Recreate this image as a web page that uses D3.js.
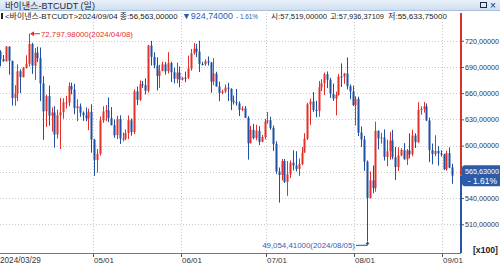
<!DOCTYPE html>
<html>
<head>
<meta charset="utf-8">
<script src="https://cdn.jsdelivr.net/npm/d3@7"></script>
<style>
body { margin: 0; background: #fff; }
svg { display: block; }
text { font-family: "Liberation Sans", "Noto Sans CJK KR", sans-serif; }
</style>
</head>
<body>
<script>
// daily candles 2024/03/29 .. 2024/09/04
var dates = d3.timeDay.range(new Date(2024, 2, 29), new Date(2024, 8, 5));

var open = [70744,69892,69645,71333,69702,65446,65980,68508,67837,68896,
    69361,71620,69146,70631,70006,67116,63924,65661,63419,63793,
    61277,63470,63818,64940,64941,66819,66414,64289,64498,63770,
    63462,63118,63866,60672,58364,59060,62882,63892,64038,63162,
    62334,61187,63049,60792,60793,61448,62901,61552,66207,65235,
    67025,66915,66274,71446,70148,69166,67969,68549,69290,68507,
    69436,68398,67652,68352,67540,67766,67765,68809,70567,71082,
    70757,69342,69305,69648,69508,67322,68242,66757,66006,66191,
    66639,66490,65140,64960,64828,64096,64252,63180,60277,61806,
    60865,61707,60427,60986,62772,62900,62029,60173,57031,56639,
    58231,55857,56714,58051,57725,57339,57889,59204,60797,64724,
    65043,64087,63987,66661,67139,68165,67532,65936,65376,65799,
    67907,67896,68249,66784,66188,64628,65354,61498,60697,58161,
    54018,56022,55134,61685,60837,60923,58712,59346,60587,58683,
    57541,58874,59491,58427,59438,59013,61157,60381,64094,64179,
    64485,62880,59504,59027,59388,59119,58974,57301,59132,57519];
var high = [70913,70355,71377,71342,69708,66914,69291,68725,69000,70327,
    72797.98,71758,71172,71305,71227,67931,65840,66867,64365,64499,
    64117,65450,65419,65695,67233,67199,67075,65297,64820,63923,
    64370,64228,64734,60780,59625,63320,64500,64646,65500,64400,
    62995,63421,63469,61490,61850,63450,63118,66444,66752,67451,
    67400,67700,71515,71979,70666,70096,69250,69610,69562,70687,
    69591,68935,69500,69044,67860,68460,70288,71063,71735,71625,
    71997,69582,69875,70196,69565,69999,68450,67316,66402,66998,
    67188,66556,65727,66482,65066,64520,64524,63369,62258,62487,
    62389,62225,61224,63058,63861,63289,62292,60498,57497,58475,
    58475,58236,58296,59470,59359,58526,59850,61420,64900,65388,
    66128,65133,67386,67598,68366,68480,67750,67102,66175,68200,
    69399,68318,70079,66998,66849,65659,65596,62198,61117,58305,
    57040,57736,62745,61744,61470,61858,60680,61578,61800,59849,
    59817,59700,60284,59617,61400,61820,61400,64955,64494,65000,
    64828,63210,60236,61184,59950,59462,59076,59425,59809,57936.37109];
var low = [69076,69601,69624,68110,64586,64560,65113,66011,67800,68806,
    69040,68210,67518,69567,65086,60660,62134,62274,61600,59768,
    60803,59600,63090,64237,64500,65864,63589,62794,63297,62824,
    62781,61765,59191,56552,56911,58848,62600,62822,62700,62325,
    60888,60750,60187,60492,60630,60750,61142,61330,64628,65106,
    66601,65857,66060,69162,68850,66312,66600,68500,68128,68250,
    67277,67124,67128,66670,67444,67257,67612,68567,70390,70119,
    68420,69168,69125,69160,66051,66902,66761,65078,65871,66034,
    65095,64060,64693,64559,63379,63943,63178,58402,60239,60712,
    60606,60063,60383,60712,62497,61808,59400,56771,53485,56018,
    55724,54260,56289,57157,57052,56542,57756,59194,60632,62373,
    63854,63238,63300,66222,65777,66573,65441,65111,63456,65722,
    66705,67066,66428,65302,64530,62302,61100,59850,57122,49054.41,
    53950,54558,54730,59568,60242,58287,57642,58392,58433,56078,
    57098,58786,58408,57787,58548,58783,59724,60342,63531,63773,
    62800,58116,57860,58786,57712,58744,57201,57128,57415,55633.75];
var close = [69892,69645,71333,69702,65446,65980,68508,67837,68896,69361,
    71620,69146,70631,70006,67116,63924,65661,63419,63793,61277,
    63470,63818,64940,64941,66819,66414,64289,64498,63770,63462,
    63118,63866,60672,58364,59060,62882,63892,64038,63162,62334,
    61187,63049,60792,60793,61448,62901,61552,66207,65235,67025,
    66915,66274,71446,70148,69166,67969,68549,69290,68507,69436,
    68398,67652,68352,67540,67766,67765,68809,70567,71082,70757,
    69342,69305,69648,69508,67322,68242,66757,66006,66191,66639,
    66490,65140,64960,64828,64096,64252,63180,60277,61806,60865,
    61707,60427,60986,62772,62900,62029,60173,57031,56639,58231,
    55857,56714,58051,57725,57339,57889,59204,60797,64724,65043,
    64087,63987,66661,67139,68165,67532,65936,65376,65799,67907,
    67896,68249,66784,66188,64628,65354,61498,60697,58161,54018,
    56022,55134,61685,60837,60923,58712,59346,60587,58683,57541,
    58874,59491,58427,59438,59013,61157,60381,64094,64179,64485,
    62880,59504,59027,59388,59119,58974,57301,59132,57487.74,56563];

var yTicks = [51000, 54000, 57000, 60000, 63000, 66000, 69000, 72000];

var width = 500, height = 267;
var plotRight = 461, plotTop = 13, plotBottom = 253;
var upCol = "#e4302b", downCol = "#1f50a3";

var svg = d3.select("body").append("svg")
    .attr("width", width)
    .attr("height", height);

var x = d3.scaleBand()
    .domain(d3.range(dates.length + 3))
    .range([-1, 462]);
var y = d3.scaleLinear()
    .domain([51000, 72000])
    .range([224.3, 40.7]);

var fmtPrice = function(v) { return d3.format(",.5f")(v).replace(/\.(\d+)$/, ",$1"); };
var fmtAxis = function(v) { return d3.format(".5f")(v / 100).replace(".", ","); };
var fmtDate = d3.timeFormat("%Y/%m/%d");

// shrink font so the text is no wider than w
function fit(sel, w) {
    sel.each(function(d, i) {
        var el = d3.select(this);
        var target = typeof w === "function" ? w(d, i) : w;
        var len = this.getComputedTextLength();
        if (len > target) {
            var fs = parseFloat(el.attr("font-size"));
            el.attr("font-size", (fs * target / len).toFixed(2));
        }
    });
}

// title bar
var grad = svg.append("defs").append("linearGradient")
    .attr("id", "title_grad").attr("x1", "0%").attr("x2", "0%").attr("y1", "0%").attr("y2", "100%");
grad.append("stop").attr("offset", 0).attr("stop-color", "#e9f1fa");
grad.append("stop").attr("offset", 1).attr("stop-color", "#cddcee");
svg.append("rect").attr("width", width).attr("height", 11).style("fill", "url(#title_grad)");
svg.append("line").attr("x1", 0).attr("x2", width).attr("y1", 10.5).attr("y2", 10.5)
    .attr("stroke", "#a9bfd8");
svg.append("text").attr("x", 5).attr("y", 9)
    .attr("font-size", 9.5).attr("fill", "#1d2a44")
    .text("바이낸스-BTCUDT (일)")
    .call(fit, 90);
svg.append("rect").attr("x", 480.5).attr("y", 2.5).attr("width", 6).attr("height", 5)
    .attr("fill", "none").attr("stroke", "#1d2a44");
svg.append("text").attr("x", 490).attr("y", 9).attr("font-size", 10).attr("fill", "#1d2a44").text("×");

// info line
var last = dates.length - 1;
var change = close[last] - close[last - 1];
var pct = change / close[last - 1] * 100;
svg.append("rect").attr("x", 1).attr("y", 13).attr("width", 2).attr("height", 6).attr("fill", "#222");
var info = [
    {t: "<바이낸스-BTCUDT>" + fmtDate(dates[last]) + " 종:" + fmtPrice(close[last]), x: 5, w: 173, c: "#222"},
    {t: (change < 0 ? "▼" : "▲") + fmtPrice(Math.abs(change)), x: 182, w: 51, c: "#2a5ab0"},
    {t: (pct < 0 ? "- " : "+ ") + d3.format(".2f")(Math.abs(pct)) + "%", x: 236, w: 22, c: "#2a5ab0"},
    {t: "시:" + fmtPrice(open[last]), x: 271, w: 56, c: "#222"},
    {t: "고:" + fmtPrice(high[last]), x: 330, w: 54, c: "#222"},
    {t: "저:" + fmtPrice(low[last]), x: 388, w: 59, c: "#222"}
];
svg.selectAll(".info").data(info).enter().append("text")
    .attr("class", "info")
    .attr("x", function(d) { return d.x; })
    .attr("y", 19)
    .attr("font-size", 9)
    .attr("fill", function(d) { return d.c; })
    .text(function(d) { return d.t; })
    .call(fit, function(d) { return d.w; });

// grid (first date, then month starts far enough from it)
var monthIdx = dates.map(function(d, i) { return i; })
    .filter(function(i) { return i === 0 || (i > 20 && dates[i].getDate() === 1); });

svg.selectAll(".hgrid").data(yTicks).enter().append("line")
    .attr("x1", 0).attr("x2", plotRight)
    .attr("y1", function(d) { return Math.round(y(d)) + 0.5; })
    .attr("y2", function(d) { return Math.round(y(d)) + 0.5; })
    .attr("stroke", "#c9c9c9").attr("stroke-dasharray", "1,2");
svg.selectAll(".vgrid").data(monthIdx).enter().append("line")
    .attr("x1", function(i) { return Math.round(x(i)) + 0.5; })
    .attr("x2", function(i) { return Math.round(x(i)) + 0.5; })
    .attr("y1", plotTop).attr("y2", plotBottom)
    .attr("stroke", "#c9c9c9").attr("stroke-dasharray", "1,2");

// candles
var cx = function(i) { return Math.round(x(i) + x.bandwidth() / 2); };
var candles = svg.append("g").selectAll("g").data(dates).enter().append("g")
    .attr("fill", function(d, i) { return close[i] >= open[i] ? upCol : downCol; })
    .attr("stroke", function(d, i) { return close[i] >= open[i] ? upCol : downCol; });
candles.append("line")
    .attr("x1", function(d, i) { return cx(i) + 0.5; })
    .attr("x2", function(d, i) { return cx(i) + 0.5; })
    .attr("y1", function(d, i) { return y(high[i]); })
    .attr("y2", function(d, i) { return y(low[i]); });
candles.append("rect")
    .attr("stroke", "none")
    .attr("x", function(d, i) { return cx(i) - 0.5; })
    .attr("width", 2)
    .attr("y", function(d, i) { return y(Math.max(open[i], close[i])); })
    .attr("height", function(d, i) { return Math.max(1, Math.abs(y(open[i]) - y(close[i]))); });

// highest / lowest markers
var hiIdx = d3.maxIndex(high), loIdx = d3.minIndex(low);
var hy = y(high[hiIdx]), hx = cx(hiIdx) + 1;
svg.append("line").attr("x1", hx + 1).attr("x2", 40).attr("y1", hy).attr("y2", hy).attr("stroke", upCol);
svg.append("path").attr("d", "M" + hx + "," + hy + "l4,-2.5v5z").attr("fill", upCol);
svg.append("text").attr("x", 41).attr("y", hy + 3)
    .attr("font-size", 8.5).attr("fill", upCol)
    .text(fmtPrice(high[hiIdx]) + "(" + fmtDate(dates[hiIdx]) + ")")
    .call(fit, 92);

var ly = y(low[loIdx]), lx = cx(loIdx) + 0.5;
svg.append("line").attr("x1", 356).attr("x2", lx).attr("y1", ly + 4).attr("y2", ly + 4).attr("stroke", downCol);
svg.append("line").attr("x1", lx).attr("x2", lx).attr("y1", ly + 1).attr("y2", ly + 4).attr("stroke", downCol);
svg.append("path").attr("d", "M" + lx + "," + ly + "l-2,3h4z").attr("fill", downCol);
svg.append("text").attr("x", 355).attr("y", ly + 6.5)
    .attr("text-anchor", "end")
    .attr("font-size", 8.5).attr("fill", "#3460b0")
    .text(fmtPrice(low[loIdx]) + "(" + fmtDate(dates[loIdx]) + ")")
    .call(fit, 93);

// bottom axis
svg.append("line").attr("x1", 0).attr("x2", plotRight).attr("y1", plotBottom + 0.5).attr("y2", plotBottom + 0.5)
    .attr("stroke", "#777");
var xa = svg.append("g").selectAll("g").data(monthIdx).enter().append("g")
    .attr("transform", function(i) { return "translate(" + (Math.round(x(i)) + 0.5) + ",0)"; });
xa.append("line").attr("y1", plotBottom).attr("y2", plotBottom + 4).attr("stroke", "#555");
xa.append("text").attr("x", 0.5).attr("y", 263)
    .attr("font-size", 8.5).attr("fill", "#333")
    .text(function(i) { return i === 0 ? fmtDate(dates[i]) : d3.timeFormat("%m/%d")(dates[i]); })
    .call(fit, function(i) { return i === 0 ? 41 : 20; });

// right axis
var ya = svg.append("g").attr("transform", "translate(" + plotRight + ",0)")
    .call(d3.axisRight(y).tickValues(yTicks).tickSize(3).tickPadding(1).tickFormat(fmtAxis));
ya.select(".domain").remove();
ya.selectAll(".tick line").attr("stroke", "#555");
ya.selectAll(".tick text")
    .attr("font-family", null)
    .attr("font-size", 8.5).attr("fill", "#333")
    .call(fit, 34);

var cy = y(close[last]);
svg.append("line").attr("x1", plotRight).attr("x2", plotRight).attr("y1", plotTop).attr("y2", cy)
    .attr("stroke", "#d8322d").attr("stroke-width", 2);
svg.append("line").attr("x1", plotRight).attr("x2", plotRight).attr("y1", cy).attr("y2", plotBottom)
    .attr("stroke", "#2a55a5").attr("stroke-width", 2);

// current price box
svg.append("rect").attr("x", 462).attr("y", cy - 10.5).attr("width", 40).attr("height", 21).attr("rx", 3)
    .attr("fill", "#2c5ca9");
svg.append("text").attr("x", 465).attr("y", cy - 1.5)
    .attr("font-size", 8.5).attr("fill", "#fff")
    .text(fmtAxis(close[last]))
    .call(fit, 34);
svg.append("text").attr("x", 497).attr("y", cy + 8.5).attr("text-anchor", "end")
    .attr("font-size", 8.5).attr("fill", "#fff")
    .text((pct < 0 ? "- " : "+ ") + d3.format(".2f")(Math.abs(pct)) + "%");

svg.append("text").attr("x", 473).attr("y", 253)
    .attr("font-size", 9).attr("font-weight", "bold").attr("fill", "#222")
    .text("[x100]")
    .call(fit, 25);
</script>
</body>
</html>
